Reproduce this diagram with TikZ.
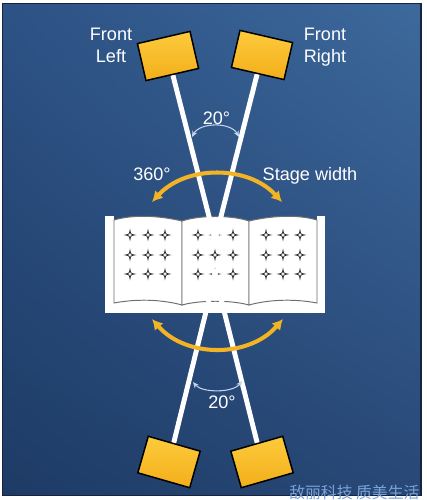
\documentclass[tikz,border=0pt]{standalone}
\usepackage{fontspec}
\setmainfont{Liberation Sans}
\newfontfamily\cjk{Noto Sans CJK SC}
\usetikzlibrary{arrows.meta,calc,shadings,positioning}

\definecolor{bgTL}{HTML}{2D5285}
\definecolor{bgTR}{HTML}{3D699C}
\definecolor{bgBL}{HTML}{1D3B65}
\definecolor{bgBR}{HTML}{284877}
\definecolor{frameink}{HTML}{16253D}
\definecolor{sweepgold}{HTML}{F2B324}
\definecolor{spkTop}{HTML}{FDCB3C}
\definecolor{spkBot}{HTML}{F3AE1A}
\definecolor{arcink}{HTML}{C4D4EC}
\definecolor{pageline}{HTML}{6E6E6E}
\definecolor{starink}{HTML}{2E2E2E}
\definecolor{wmark}{HTML}{79A2D6}

\tikzset{twinkle/.pic={
    \draw[line width=0.45pt, draw=starink, fill=white] (0,-4.5) .. controls (0.7,-0.7) .. (4.5,0) .. controls (0.7,0.7) .. (0,4.5) .. controls (-0.7,0.7) .. (-4.5,0) .. controls (-0.7,-0.7) .. cycle;
}}

\begin{document}
\begin{tikzpicture}[x=0.02cm, y=-0.02cm, font=\fontsize{10.3}{12.5}\selectfont]
        \tikzstyle{speaker} = [rectangle, draw=black, line width=0.85pt, top color=spkTop, bottom color=spkBot, minimum width=1.08cm, minimum height=0.76cm, inner sep=0]
        \tikzstyle{ray} = [draw=white, line width=2.8pt]
        \tikzstyle{sweep} = [draw=sweepgold, line width=2.3pt, {Latex[length=6pt,width=6.5pt]}-{Latex[length=6pt,width=6.5pt]}]
        \tikzstyle{spread} = [draw=arcink, line width=0.6pt, {Stealth[length=3.5pt,width=3pt]}-{Stealth[length=3.5pt,width=3pt]}]
        \tikzstyle{txt} = [text=white, inner sep=0]
        \tikzstyle{page} = [draw=pageline, fill=white, line width=0.55pt]

        \useasboundingbox (0,0) rectangle (426,500);
        \shade[upper left=bgTL, upper right=bgTR, lower left=bgBL, lower right=bgBR] (2.5,3.5) rectangle (421,495.5);
        \draw[frameink, line width=0.8pt] (2.5,3.5) rectangle (421,495.5);

        % open book
        \fill[white] (105,216) rectangle (114,313);
        \fill[white] (317,216) rectangle (325,313);
        \fill[white] (105,300) rectangle (325,313);
        \path[page] (114,303) -- (114,220) .. controls (135,214) and (160,216) .. (182,221) -- (182,305) .. controls (160,299) and (135,299) .. cycle;
        \path[page] (182,221) .. controls (200,215) and (231,215) .. (249,221) -- (249,305) .. controls (231,300) and (200,300) .. (182,305) -- cycle;
        \path[page] (249,221) .. controls (271,216) and (296,214) .. (317,220) -- (317,303) .. controls (296,299) and (271,299) .. (249,305) -- cycle;
        \foreach \x in {130,148,165,198,215,233,266,283,300}
            \foreach \y in {235,255,274}
                \pic at (\x,\y) {twinkle};

        \coordinate (fl) at (168,56);
        \coordinate (fr) at (262,55);
        \coordinate (rl) at (169,462);
        \coordinate (rr) at (262,462);
        \coordinate (frontx) at (215,240);
        \coordinate (rearx) at (215,275);

        \path[ray] (fl) -- ($(fl)!1.03!(frontx)$);
        \path[ray] (fr) -- ($(fr)!1.03!(frontx)$);
        \path[ray] (rl) -- ($(rl)!1.03!(rearx)$);
        \path[ray] (rr) -- ($(rr)!1.03!(rearx)$);

        \node[speaker, rotate=13] (flspk) at (fl) {};
        \node[speaker, rotate=-13] (frspk) at (fr) {};
        \node[speaker, rotate=-16] (rlspk) at (rl) {};
        \node[speaker, rotate=16] (rrspk) at (rr) {};

        % sweeps and angles
        \coordinate (topL) at (152,202);
        \coordinate (topR) at (282,202);
        \coordinate (lowL) at (152,319);
        \coordinate (lowR) at (283,319);
        \draw[sweep] (topL) .. controls (186,165) and (248,165) .. (topR);
        \draw[sweep] (lowL) .. controls (186,358) and (249,358) .. (lowR);
        \draw[spread] (192,137) .. controls (200,122) and (231,122) .. (239,137);
        \draw[spread] (193,382) .. controls (202,393) and (233,393) .. (242,381);

        \node[txt, align=center, anchor=north] (fltxt) at (111,28) {Front\\Left};
        \node[txt, align=center, anchor=north] (frtxt) at (325,28) {Front\\Right};
        \node[txt, anchor=base] (roundtxt) at (152,180) {360°};
        \node[txt, anchor=base] (stagetxt) at (310,180) {Stage width};
        \node[txt, anchor=base] (fronttxt) at (216.5,124.5) {20°};
        \node[txt, anchor=base] (reartxt) at (222,408) {20°};

        \node[anchor=west, text=wmark, inner sep=0, font=\cjk\fontsize{9}{10}\selectfont] (mark) at (289,492) {敌丽科技 质美生活};
    \end{tikzpicture}
\end{document}
